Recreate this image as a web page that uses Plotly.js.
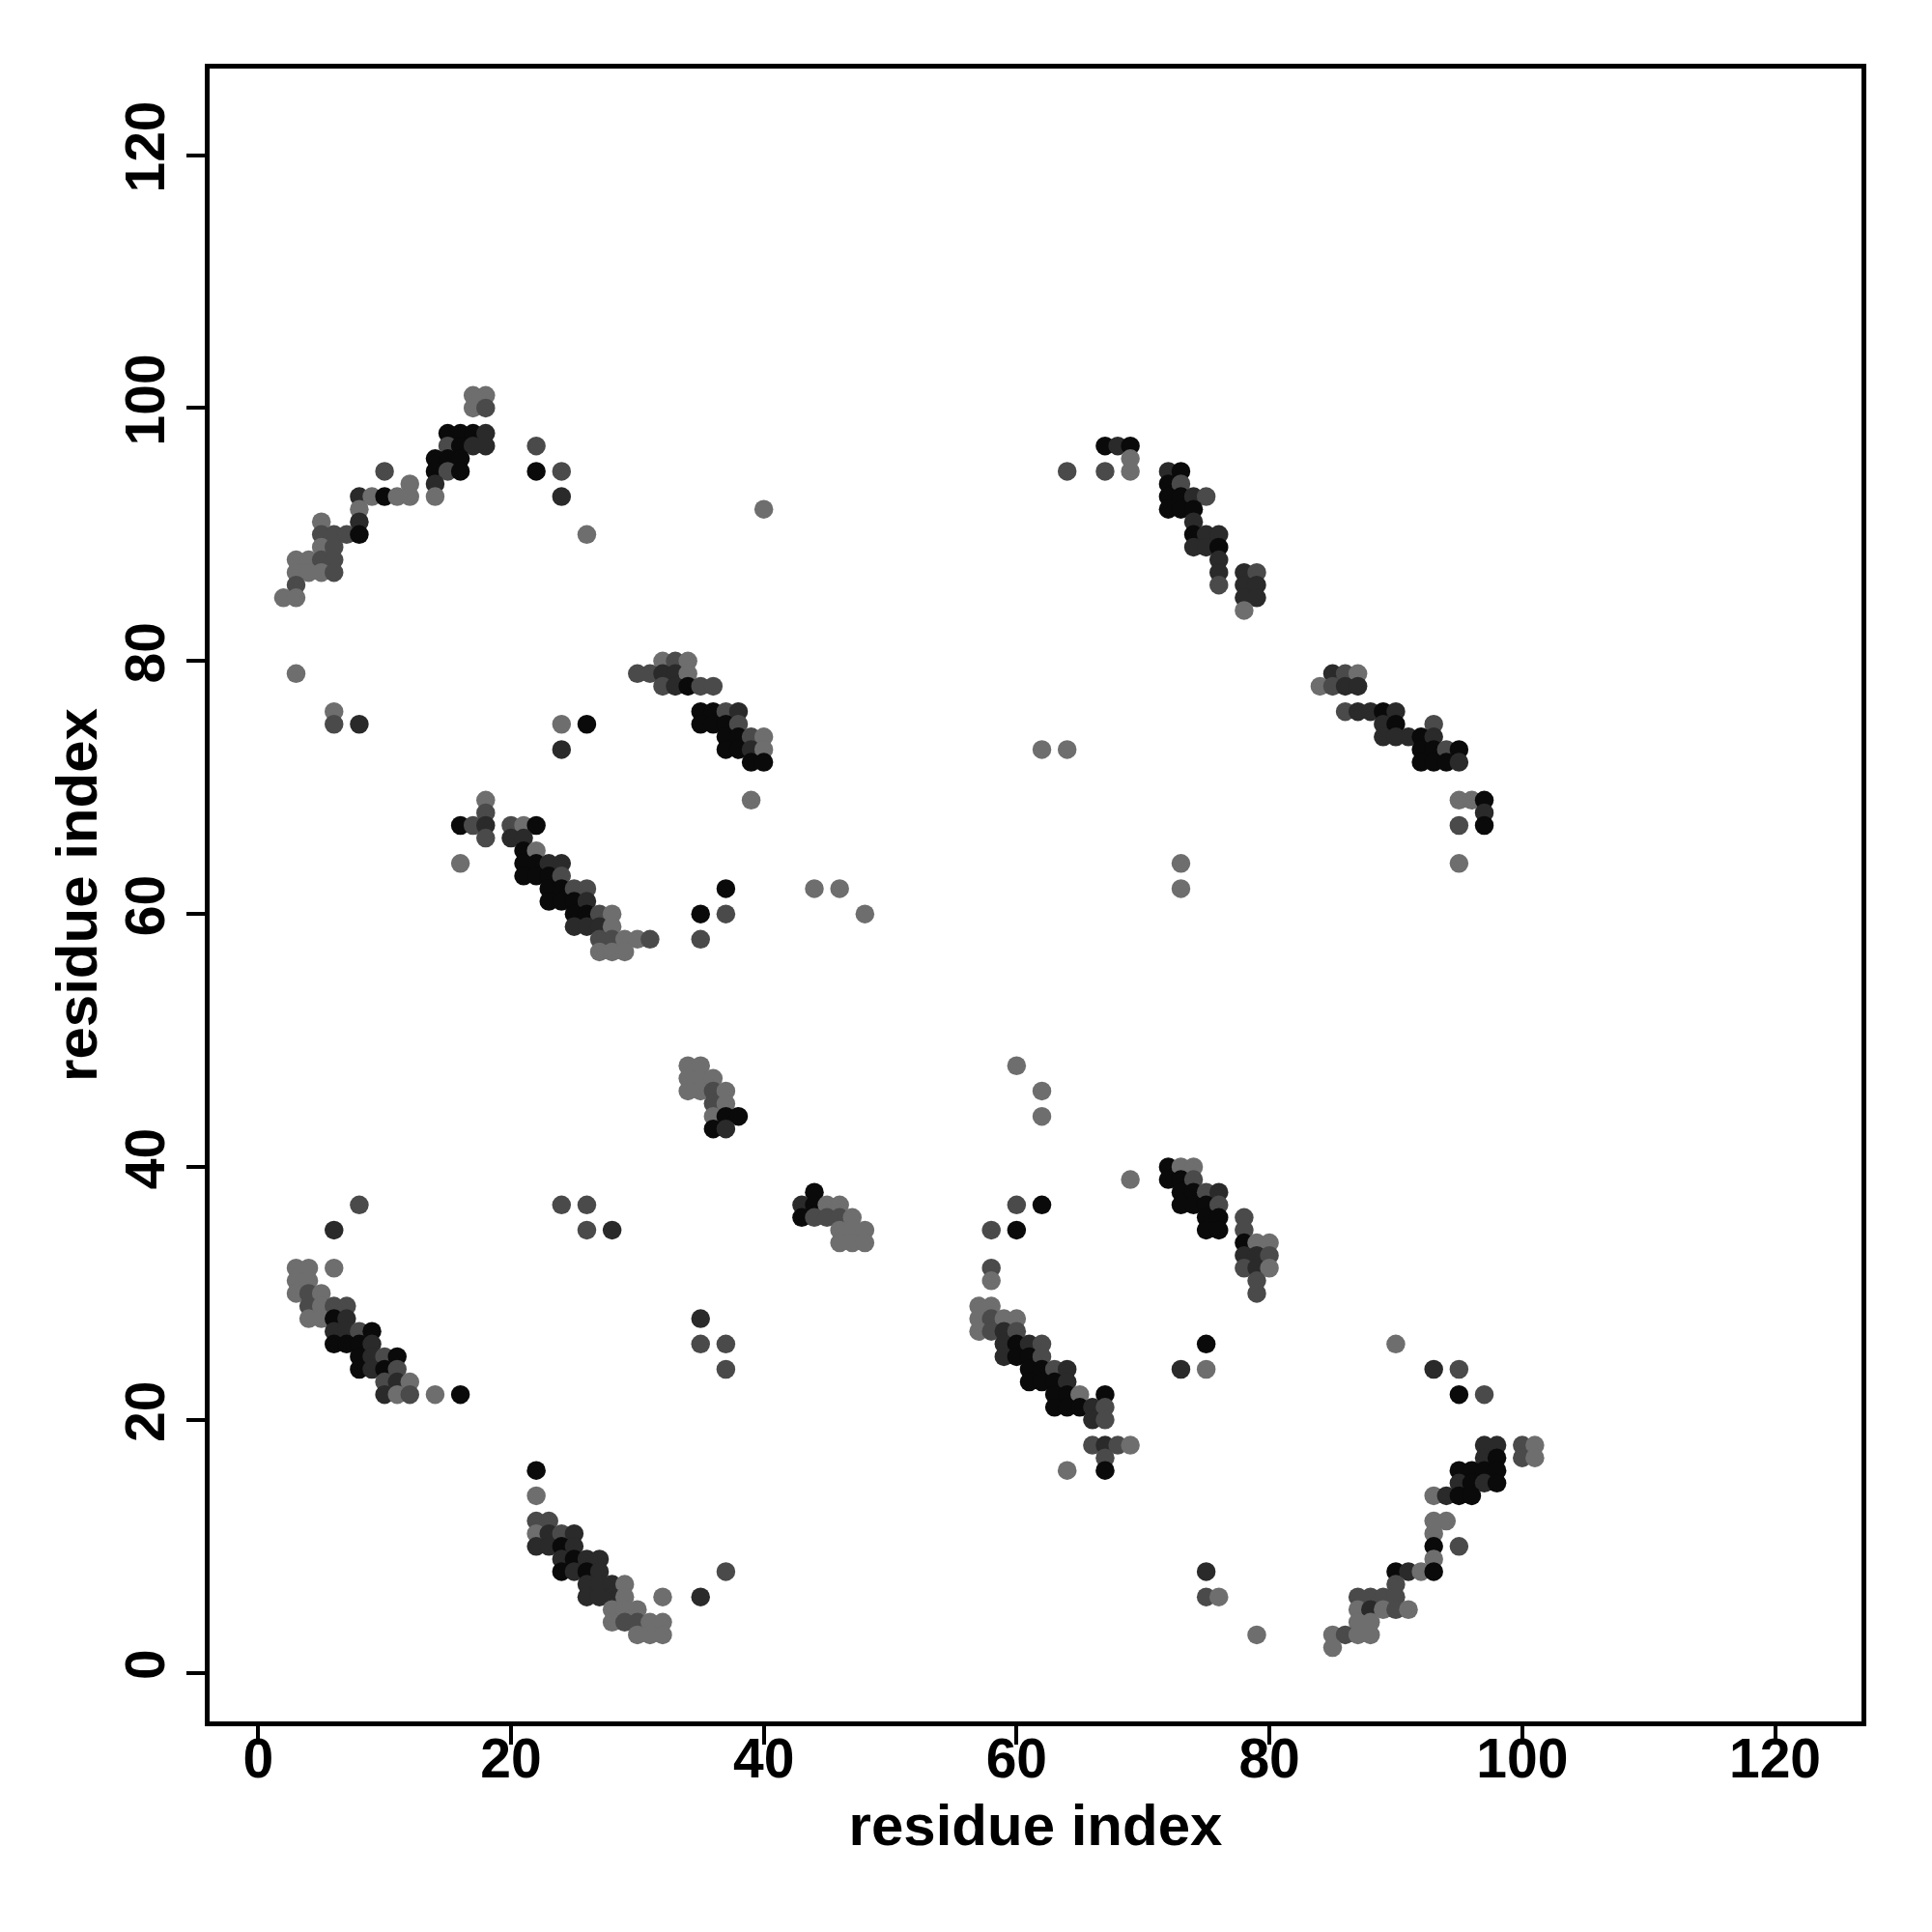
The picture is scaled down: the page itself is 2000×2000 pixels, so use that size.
<!DOCTYPE html>
<html>
<head>
<meta charset="utf-8">
<script src="https://cdn.plot.ly/plotly-3.0.1.min.js"></script>
<style>html,body{margin:0;padding:0;background:#fff;}#chart{width:2000px;height:2000px;}</style>
</head>
<body>
<div id="chart"></div>
<script>
// residue i (x), residue j (y), contact shade (1 = darkest ... 4 = lightest)
const resX = [
  // top-left arc
  17,18, 17,18, 15,16,17,18, 15,16,17,18, 22, 14,15,16, 14,15,16,22,24,10, 12,14,
  8,9,10,11,12,14,24, 8, 5,8, 5,6,7,8,26, 5,6, 3,4,5,6, 3,4,5,6, 3, 2,3, 40,
  // scattered left-mid
  3,6,6,8,24,24,26,
  // x 30-40, y 72-80
  32,33,34, 30,31,32,33,34, 32,33,34,35,36, 35,36,37,38, 35,36,37,38, 37,38,39,40, 37,38,39,40, 39,40,
  // x 16-31, y 57-69
  18,39, 18, 16,17,18,20,21,22, 18,20,21, 16, 21,22, 21,22,23,24, 21,22,23,24,
  23,24,25,26,37,44,46, 23,24,25,26, 25,26,27,28,35,37,48, 25,26,27,28,
  27,28,29,30,31,35, 27,28,29,
  // middle
  34,35, 34,35,36, 34,35,36,37, 36,37, 36,37,38, 36,37,
  44, 43,44,45,46, 43,44,45,46,47, 46,47,48, 46,47,48,
  // bottom-left
  8,6, 3,4,6, 3,4, 3,4,5, 4,5,6,7, 4,5,6,7, 6,7,8,9, 6,7,8,9, 8,9,10,11, 8,9,10,11,
  10,11,12, 10,11,12,14,16,
  // scattered
  24,26,26,28,35,35,37,37,
  // bottom
  22,22, 22,23, 22,23,24,25, 22,23,24,25, 24,25,26,27, 24,25,26,27,37,
  26,27,28,29, 26,27,28,29,32,35, 28,29,30, 28,29,30,31,32, 30,31,32,
  // x 57-80, y 16-48
  60,62,62,69,60,62,58,60, 58,58, 57,58, 57,58,59,60, 57,58,59,60, 59,60,61,62, 59,60,61,62,
  61,62,63,64, 61,62,63,64, 63,64,65,67, 63,64,65,66,67, 66,67, 66,67,68,69, 67, 64,67,
  72,73,74, 72,73,74, 73,74,75,76, 73,74,75,76, 75,76,78, 75,76,78, 78,79,80, 78,79,80, 78,79,80,
  79,79, 75,73,75,
  // bottom-right
  90,93,95,95,97, 97,98,100,101, 97,98,100,101, 95,96,97,98, 95,96,97,98, 93,94,95,96,
  93,94,93,93,95,93, 90,91,92,93, 90, 87,88,89,90, 87,88,89,90,91, 87,88, 85,86,87,88, 85,
  75,75,76,79,
  // top-right
  67,68,69, 69, 64,67,69, 72,73, 72,73, 72,73,74,75, 72,73,74, 74, 74,75,76, 74,75,76,
  76,76,76, 78,79, 78,79, 78,79, 78,
  // right-mid
  85,86,87, 84,85,86,87, 86,87,88,89,90, 89,90,93, 89,90,91,92,93, 92,93,94,95, 92,93,94,95,
  95,96,97, 97, 95,97, 95, 62,64,73,73
];
const resY = [
  101,101, 100,100, 98,98,98,98, 97,97,97,97, 97, 96,96,96, 95,95,95,95,95,95, 94,94,
  93,93,93,93,93,93,93, 92, 91,91, 90,90,90,90,90, 89,89, 88,88,88,88, 87,87,87,87, 86, 85,85, 92,
  79,76,75,75,75,73,75,
  80,80,80, 79,79,79,79,79, 78,78,78,78,78, 76,76,76,76, 75,75,75,75, 74,74,74,74, 73,73,73,73, 72,72,
  69,69, 68, 67,67,67,67,67,67, 66,66,66, 64, 65,65, 64,64,64,64, 63,63,63,63,
  62,62,62,62,62,62,62, 61,61,61,61, 60,60,60,60,60,60,60, 59,59,59,59,
  58,58,58,58,58,58, 57,57,57,
  48,48, 47,47,47, 46,46,46,46, 45,45, 44,44,44, 43,43,
  38, 37,37,37,37, 36,36,36,36,36, 35,35,35, 34,34,34,
  37,35, 32,32,32, 31,31, 30,30,30, 29,29,29,29, 28,28,28,28, 27,27,27,27, 26,26,26,26, 25,25,25,25, 24,24,24,24,
  23,23,23, 22,22,22,22,22,
  37,37,35,35,28,26,26,24,
  16,14, 12,12, 11,11,11,11, 10,10,10,10, 9,9,9,9, 8,8,8,8,8,
  7,7,7,7, 6,6,6,6,6,6, 5,5,5, 4,4,4,4,4, 3,3,3,
  48,46,44,39,37,37,35,35, 32,31, 29,29, 28,28,28,28, 27,27,27,27, 26,26,26,26, 25,25,25,25,
  24,24,24,24, 23,23,23,23, 22,22,22,22, 21,21,21,21,21, 20,20, 18,18,18,18, 17, 16,16,
  40,40,40, 39,39,39, 38,38,38,38, 37,37,37,37, 36,36,36, 35,35,35, 34,34,34, 33,33,33, 32,32,32,
  31,30, 26,24,24,
  26,24,24,22,22, 18,18,18,18, 17,17,17,17, 16,16,16,16, 15,15,15,15, 14,14,14,14,
  12,12,11,10,10,9, 8,8,8,8, 7, 6,6,6,6, 5,5,5,5,5, 4,4, 3,3,3,3, 2,
  8,6,6,3,
  97,97,97, 96, 95,95,95, 95,95, 94,94, 93,93,93,93, 92,92,92, 91, 90,90,90, 89,89,89,
  88,87,86, 87,87, 86,86, 85,85, 84,
  79,79,79, 78,78,78,78, 76,76,76,76,76, 75,75,75, 74,74,74,74,74, 73,73,73,73, 72,72,72,72,
  69,69,69, 68, 67,67, 64, 73,73,64,62
];
const shade = [
  4,4, 4,3, 1,1,1,2, 3,1,2,2, 3, 1,1,1, 1,3,1,1,3,3, 4,2,
  2,4,1,4,4,4,2, 4, 4,2, 3,3,3,1,4, 4,3, 4,4,3,3, 4,4,4,3, 3, 4,4, 4,
  4,4,3,2,4,2,1,
  4,3,4, 3,3,2,2,4, 3,2,1,3,3, 1,1,3,2, 1,1,1,3, 1,1,3,4, 1,1,2,4, 1,1,
  4,4, 3, 1,3,2,3,4,1, 3,2,2, 4, 1,4, 1,1,2,2, 1,1,1,3,
  1,1,3,3,1,4,4, 1,1,1,2, 1,1,3,4,1,3,4, 2,2,2,4,
  3,3,4,4,3,3, 4,4,4,
  4,4, 4,4,4, 4,4,3,4, 3,4, 4,1,1, 1,2,
  1, 2,1,4,4, 1,3,3,3,4, 4,4,4, 4,4,4,
  3,2, 4,4,4, 4,4, 4,3,4, 3,4,3,3, 4,4,1,2, 2,2,3,1, 1,1,1,2, 1,2,3,1, 1,2,1,3,
  3,2,4, 2,4,3,4,1,
  3,3,3,2,2,3,3,3,
  1,4, 3,3, 4,2,3,2, 2,2,1,2, 2,1,2,2, 1,2,1,2,3,
  2,2,2,4, 2,2,2,4,4,2, 4,4,4, 4,3,3,4,4, 4,4,4,
  4,4,4,4,3,1,3,1, 3,4, 4,4, 4,3,4,4, 4,3,2,3, 2,1,2,3, 2,1,1,3,
  1,1,3,2, 1,1,1,2, 1,1,4,1, 1,1,1,2,3, 2,3, 3,2,3,4, 3, 4,1,
  1,4,4, 1,1,3, 1,1,3,2, 1,1,1,3, 1,1,3, 1,1,3, 1,4,4, 2,2,3, 3,2,4,
  3,3, 1,2,4,
  4,2,3,1,3, 2,2,3,4, 2,1,3,4, 1,1,1,1, 2,1,2,1, 4,2,1,1,
  4,4,4,1,3,4, 1,2,4,1, 3, 3,3,3,3, 4,2,4,3,4, 4,4, 4,3,4,4, 4,
  2,3,4,4,
  1,2,1, 4, 3,3,4, 2,1, 1,3, 1,1,2,3, 1,1,1, 2, 1,2,2, 2,2,1,
  2,2,3, 2,3, 2,2, 2,2, 4,
  2,3,4, 4,3,2,2, 3,2,2,1,2, 2,1,3, 2,2,2,1,2, 1,1,3,1, 1,1,1,2,
  4,4,1, 2, 3,1, 4, 4,4,4,4
];
const tickVals = [0, 20, 40, 60, 80, 100, 120];
const axisTitle = "residue index";

const FONT = "Liberation Sans, Arial, Helvetica, sans-serif";

const trace = {
  type: "scatter",
  mode: "markers",
  x: resX,
  y: resY,
  marker: {
    size: 19.5,
    color: shade,
    cmin: 1,
    cmax: 4,
    colorscale: [[0, "#0a0a0a"], [0.333, "#2a2a2a"], [0.667, "#4a4a4a"], [1, "#6e6e6e"]],
    showscale: false,
    line: {width: 0},
    opacity: 1
  },
  hoverinfo: "x+y"
};

const axisBase = {
  range: [-3.84, 126.84],
  tickmode: "array",
  tickvals: tickVals,
  ticktext: tickVals.map(String),
  ticks: "outside",
  ticklen: 19,
  tickwidth: 4,
  tickcolor: "#000",
  showline: true,
  linewidth: 5,
  linecolor: "#000",
  mirror: true,
  showgrid: false,
  zeroline: false,
  tickfont: {family: FONT, size: 57, color: "#000", weight: "bold"},
  automargin: false
};

const layout = {
  width: 2000,
  height: 2000,
  margin: {l: 217, r: 73, t: 71, b: 218},
  paper_bgcolor: "#fff",
  plot_bgcolor: "#fff",
  showlegend: false,
  xaxis: Object.assign({}, axisBase, {
    ticklabelstandoff: -34,
    title: {text: axisTitle, font: {family: FONT, size: 60, color: "#000", weight: "bold"}, standoff: 18}
  }),
  yaxis: Object.assign({}, axisBase, {
    tickangle: -90,
    title: {text: axisTitle, font: {family: FONT, size: 60, color: "#000", weight: "bold"}, standoff: 0}
  })
};

Plotly.newPlot("chart", [trace], layout, {staticPlot: true, displayModeBar: false});
</script>
</body>
</html>
